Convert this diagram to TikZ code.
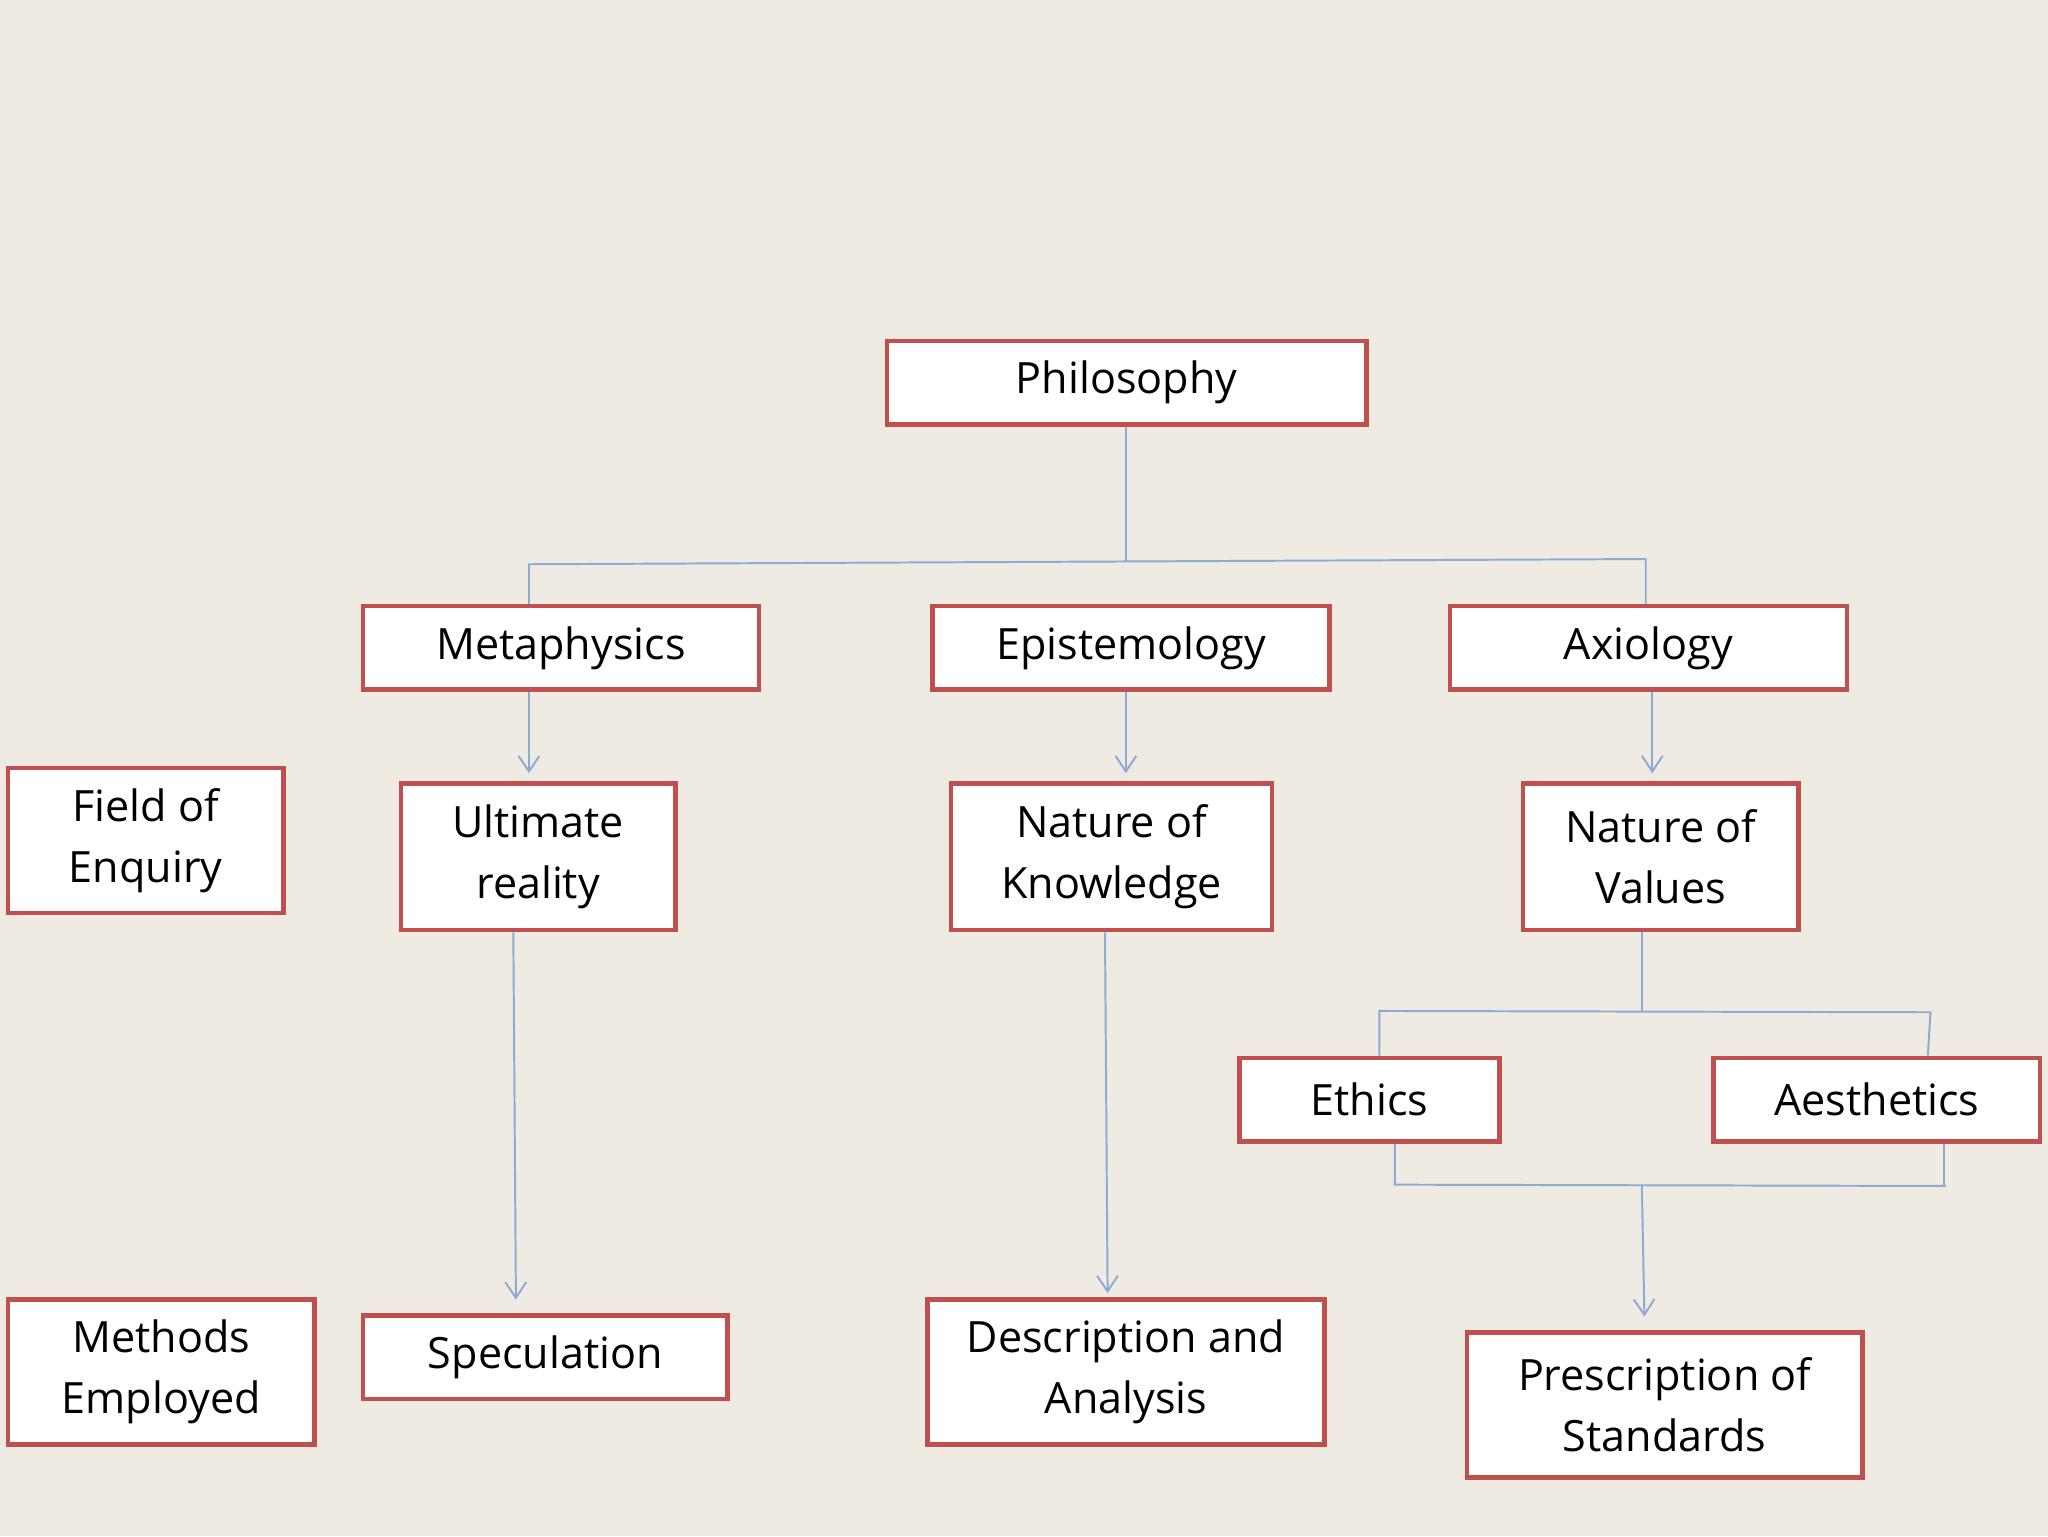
\documentclass[tikz,border=0pt]{standalone}
\usepackage{fontspec}
\setmainfont{Open Sans}
\usetikzlibrary{arrows.meta}
\definecolor{bg}{RGB}{239,235,226}
\definecolor{bd}{RGB}{192,80,77}
\definecolor{ln}{RGB}{140,172,212}
\begin{document}
\begin{tikzpicture}[x=1pt,y=-1pt,
 bx/.style={draw=bd,line width=3.5pt,fill=white,inner sep=0pt,align=center,font=\fontsize{33}{47}\selectfont},
 cn/.style={draw=ln,line width=1.5pt},
 ar/.style={cn,-{Straight Barb[length=12pt,width=16pt,line width=1.5pt]}}]
\fill[bg] (0,0) rectangle (1568,1176);
\useasboundingbox (0,0) rectangle (1568,1176);
\def\bxn#1#2#3#4#5#6{\node[bx,minimum width=#4-#2,minimum height=#5-#3] (#1) at ({(#2+#4)/2},{(#3+#5)/2}) {#6};}
\bxn{phil}{679}{261}{1046}{325}{Philosophy}
\bxn{meta}{278}{464}{581}{528}{Metaphysics}
\bxn{epis}{714}{464}{1018}{528}{Epistemology}
\bxn{axio}{1110}{464}{1414}{528}{Axiology}
\bxn{field}{6}{588}{217}{699}{Field of\\Enquiry}
\bxn{ult}{307}{600}{517}{712}{Ultimate\\reality}
\bxn{nk}{728}{600}{974}{712}{Nature of\\Knowledge}
\bxn{nv}{1166}{600}{1377}{712}{Nature of\\Values}
\bxn{eth}{949}{810}{1148}{874}{Ethics}
\bxn{aes}{1312}{810}{1562}{874}{Aesthetics}
\bxn{meth}{6}{995}{241}{1106}{Methods\\Employed}
\bxn{spec}{278}{1007}{557}{1071}{Speculation}
\bxn{desc}{710}{995}{1014}{1106}{Description and\\Analysis}
\bxn{pres}{1123}{1020}{1426}{1131}{Prescription of\\Standards}
\coordinate (j1) at (862,430);
\coordinate (jl) at (405,432);
\coordinate (jr) at (1260,428);
\draw[cn] (phil.south -| j1) -- (j1);
\draw[cn] (meta.north -| jl) -- (jl) -- (jr) -- (axio.north -| jr);
\draw[ar] (meta.south -| jl) -- (405,592) coordinate (a1);
\draw[ar] (epis.south -| j1) -- (862,592) coordinate (a2);
\draw[ar] (axio.south -| 1265,0) -- (1265,592) coordinate (a3);
\draw[ar] (ult.south -| 393,0) -- (395,995) coordinate (a4);
\draw[ar] (nk.south -| 846,0) -- (848,990) coordinate (a5);
\coordinate (j2) at (1257,774);
\draw[cn] (nv.south -| j2) -- (j2);
\draw[cn] (eth.north -| 1056,0) -- (1056,774) -- (1478,775) -- (aes.north -| 1476,0);
\draw[cn] (eth.south -| 1068,0) -- (1068,907) -- (1490,908);
\draw[cn] (aes.south -| 1488,0) -- (1488,908);
\draw[ar] (1257,907) coordinate (j3) -- (1259,1008) coordinate (a6);
\end{tikzpicture}
\end{document}
